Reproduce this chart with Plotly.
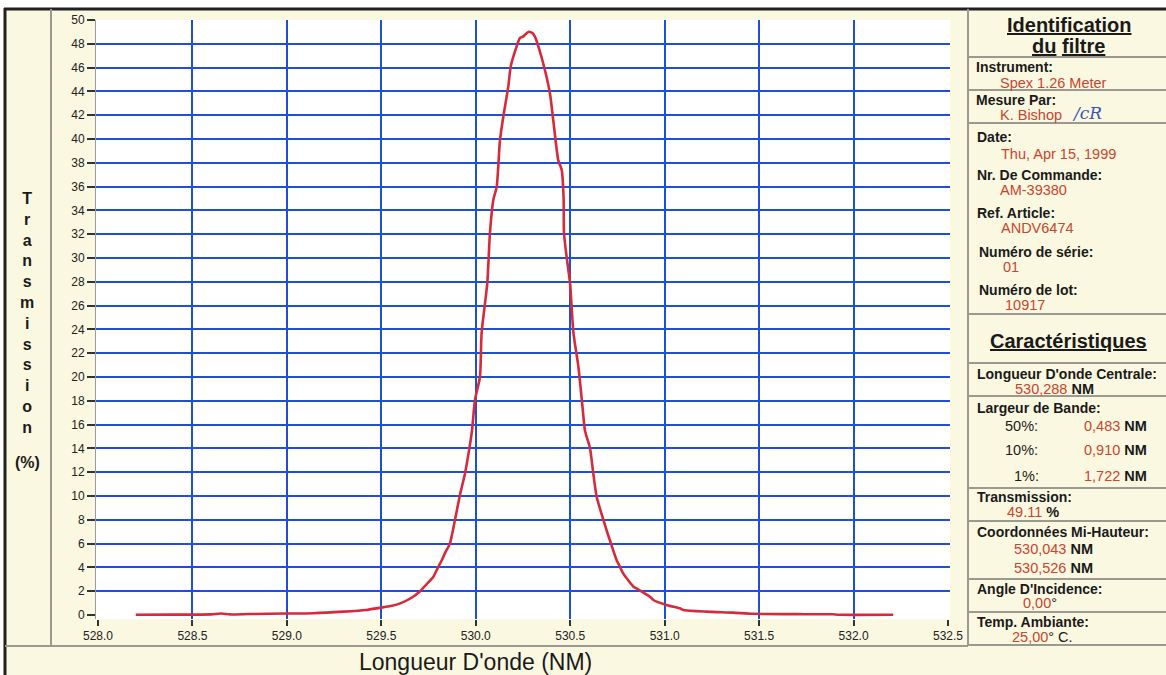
import plotly.graph_objects as go

# ---------------- data ----------------
wavelength_nm = [528.20, 528.40, 528.60, 528.65, 528.70, 528.80, 529.00, 529.14, 529.30, 529.42,
                 529.49, 529.55, 529.60, 529.66, 529.705, 529.74, 529.775, 529.80, 529.82, 529.84,
                 529.863, 529.89, 529.915, 529.943, 529.966, 529.98, 529.996, 530.022, 530.031, 530.061,
                 530.075, 530.093, 530.111, 530.128, 530.146, 530.172, 530.185, 530.216, 530.234, 530.25,
                 530.278, 530.30, 530.313, 530.331, 530.366, 530.393, 530.410, 530.437, 530.455, 530.465,
                 530.467, 530.481, 530.499, 530.517, 530.543, 530.565, 530.578, 530.605, 530.622, 530.640,
                 530.693, 530.72, 530.746, 530.763, 530.78, 530.834, 530.85, 530.922, 530.94, 531.01,
                 531.08, 531.10, 531.22, 531.36, 531.47, 531.70, 531.89, 531.92, 532.21]
transmission_pct = [0.02, 0.03, 0.05, 0.12, 0.05, 0.08, 0.12, 0.15, 0.28, 0.42,
                    0.60, 0.75, 0.98, 1.45, 2.0, 2.6, 3.2, 4.0, 4.6, 5.3,
                    6.0, 8.0, 10.0, 11.9, 14.0, 15.5, 18.1, 20.0, 23.7, 27.9,
                    32.1, 34.9, 36.0, 39.9, 41.9, 44.4, 46.1, 47.76, 48.5, 48.6,
                    49.0, 48.9, 48.6, 47.8, 45.8, 43.8, 41.6, 38.2, 37.4, 35.0,
                    32.1, 30.1, 27.9, 23.7, 20.9, 17.5, 15.5, 14.0, 11.9, 9.94,
                    7.1, 5.8, 4.6, 4.06, 3.5, 2.4, 2.24, 1.54, 1.26, 0.84,
                    0.56, 0.42, 0.28, 0.20, 0.10, 0.07, 0.06, 0.02, 0.02]

x_tick_vals = [528.0, 528.5, 529.0, 529.5, 530.0, 530.5, 531.0, 531.5, 532.0, 532.5]
x_grid_vals = [528.5, 529.0, 529.5, 530.0, 530.5, 531.0, 531.5, 532.0]
y_tick_vals = list(range(0, 51, 2))
y_grid_vals = list(range(2, 49, 2))

x_title = "Longueur D'onde (NM)"
y_title_letters = list("Transmission")
y_title_unit = "(%)"

# ---------------- style ----------------
FONT = "Liberation Sans, Arial, sans-serif"
CREAM = "#FAF8E1"
BLUE = "#1E4FD8"
CURVE = "#D62A3C"
RED = "#C8452E"
INK = "#1A1A1A"
SEP = "#9A9A92"

W, H = 1166, 675
L, R, T, B = 96, 950, 20, 619  # plot area in pixels


def px(x):
    return (x - L) / (R - L)


def py(y):
    return (B - y) / (B - T)


x_range = [528.0 - 2 / 188.9, 532.5 + 2 / 188.9]
y_range = [-4 / 11.9, 50]

fig = go.Figure()
fig.add_trace(go.Scatter(x=wavelength_nm, y=transmission_pct, mode="lines",
                         line=dict(color=CURVE, width=2.6, shape="spline", smoothing=0.6),
                         showlegend=False, hoverinfo="x+y"))
fig.add_trace(go.Scatter(x=[530.0], y=[-1], xaxis="x2", yaxis="y2", mode="markers",
                         marker=dict(size=1, opacity=0), showlegend=False, hoverinfo="skip"))

annotations = []


def note(text, x, y, size=13.5, color=INK, bold=False, xanchor="left", family=FONT):
    if bold:
        text = "<b>" + text + "</b>"
    annotations.append(dict(text=text, x=px(x), y=py(y), xref="paper", yref="paper",
                            xanchor=xanchor, yanchor="middle", showarrow=False,
                            font=dict(family=family, size=size, color=color)))


def red(s):
    return "<span style='color:%s'>%s</span>" % (RED, s)


# left side titles
note("<br>".join(y_title_letters), 27, 313, size=16, bold=True, xanchor="center")
note(y_title_unit, 27, 463, size=16, bold=True, xanchor="center")
note(x_title, 475, 662, size=23, xanchor="center")

# right panel
LBL = 14
VAL = 14.5
TIT = 20
note("<u>Identification</u>", 1069, 25, size=TIT, bold=True, xanchor="center")
note("<u>du</u> <u>filtre</u>", 1068, 46, size=TIT, bold=True, xanchor="center")
note("Instrument:", 974, 67, size=LBL, bold=True)
note("Spex 1.26 Meter", 998, 83, size=VAL, color=RED)
note("Mesure Par:", 974, 100, size=LBL, bold=True)
note("K. Bishop", 998, 115, size=VAL, color=RED)
note("<i>/cR</i>", 1070, 113, size=17, color="#3A55B8", family="DejaVu Serif, serif")
note("Date:", 975, 137, size=LBL, bold=True)
note("Thu, Apr 15, 1999", 999, 154, size=VAL, color=RED)
note("Nr. De Commande:", 975, 175, size=LBL, bold=True)
note("AM-39380", 998, 190, size=VAL, color=RED)
note("Ref. Article:", 975, 213, size=LBL, bold=True)
note("ANDV6474", 999, 228, size=VAL, color=RED)
note("Numéro de série:", 977, 252, size=LBL, bold=True)
note("01", 1001, 267, size=VAL, color=RED)
note("Numéro de lot:", 977, 290, size=LBL, bold=True)
note("10917", 1003, 305, size=VAL, color=RED)

note("<u>Caractéristiques</u>", 1068, 341, size=TIT, bold=True, xanchor="center")
note("Longueur D'onde Centrale:", 975, 374, size=LBL, bold=True)
note(red("530,288") + " <b>NM</b>", 1013, 389, size=VAL)
note("Largeur de Bande:", 975, 408, size=LBL, bold=True)
note("50%:", 1003, 426, size=VAL)
note(red("0,483") + " <b>NM</b>", 1082, 426, size=VAL)
note("10%:", 1003, 450, size=VAL)
note(red("0,910") + " <b>NM</b>", 1082, 450, size=VAL)
note("1%:", 1012, 476, size=VAL)
note(red("1,722") + " <b>NM</b>", 1082, 476, size=VAL)
note("Transmission:", 975, 497, size=LBL, bold=True)
note(red("49.11") + " <b>%</b>", 1005, 512, size=VAL)
note("Coordonnées Mi-Hauteur:", 975, 532, size=LBL, bold=True)
note(red("530,043") + " <b>NM</b>", 1012, 549, size=VAL)
note(red("530,526") + " <b>NM</b>", 1012, 568, size=VAL)
note("Angle D'Incidence:", 975, 589, size=LBL, bold=True)
note(red("0,00") + "°", 1021, 603, size=VAL)
note("Temp. Ambiante:", 975, 622, size=LBL, bold=True)
note(red("25,00") + "° C.", 1010, 637, size=VAL)


shapes = []


def hline(y, x0, x1, color=SEP, width=2, dash="solid"):
    shapes.append(dict(type="line", xref="paper", yref="paper", x0=px(x0), x1=px(x1),
                       y0=py(y), y1=py(y), line=dict(color=color, width=width, dash=dash), layer="above"))


def vline(x, y0, y1, color=SEP, width=2):
    shapes.append(dict(type="line", xref="paper", yref="paper", x0=px(x), x1=px(x),
                       y0=py(y0), y1=py(y1), line=dict(color=color, width=width), layer="above"))


def rect(x0, y0, x1, y1, fill):
    shapes.append(dict(type="rect", xref="paper", yref="paper", x0=px(x0), x1=px(x1),
                       y0=py(y0), y1=py(y1), fillcolor=fill, line=dict(width=0), layer="below"))


# white page edges
rect(0, 0, W, 8, "white")
rect(0, 0, 4, H, "white")

# frame
hline(9, 4, W, color="#202020", width=3)
vline(5, 8, H, color="#202020", width=3)
vline(51, 9, 646)
hline(646, 5, 968)
vline(968, 9, 646)
for yy in [57, 90, 123, 314, 363, 396, 488, 521, 579, 612, 645]:
    hline(yy, 968, W, dash="solid")

fig.update_layout(
    width=W, height=H,
    margin=dict(l=L, r=W - R, t=T, b=H - B),
    paper_bgcolor=CREAM, plot_bgcolor="white",
    font=dict(family=FONT, size=11, color=INK),
    showlegend=False,
    annotations=annotations,
    shapes=shapes,
    xaxis=dict(range=x_range, tickvals=x_grid_vals, showticklabels=False, ticks="",
               showgrid=True, gridcolor=BLUE, gridwidth=2, zeroline=False, showline=False),
    yaxis=dict(range=y_range, tickvals=y_grid_vals, showticklabels=False, ticks="",
               showgrid=True, gridcolor=BLUE, gridwidth=2, zeroline=False,
               showline=True, linecolor="#9A9A9A", linewidth=1),
    xaxis2=dict(range=x_range, overlaying="x", anchor="y2", side="bottom",
                tickvals=x_tick_vals, ticktext=["%.1f" % v for v in x_tick_vals],
                ticks="outside", ticklen=6, tickwidth=2, tickcolor="#333333",
                tickfont=dict(family=FONT, size=12, color="#222222"),
                showgrid=False, zeroline=False, showline=False),
    yaxis2=dict(range=y_range, overlaying="y", anchor="x2", side="left",
                tickvals=y_tick_vals, ticktext=[str(v) for v in y_tick_vals],
                ticks="outside", ticklen=8, tickwidth=2, tickcolor="#333333",
                tickfont=dict(family=FONT, size=12, color="#222222"),
                showgrid=False, zeroline=False, showline=False),
)

fig.write_html("out.html", config={"displayModeBar": False},
               post_script="document.body.style.margin='0';document.body.style.overflow='hidden';")
